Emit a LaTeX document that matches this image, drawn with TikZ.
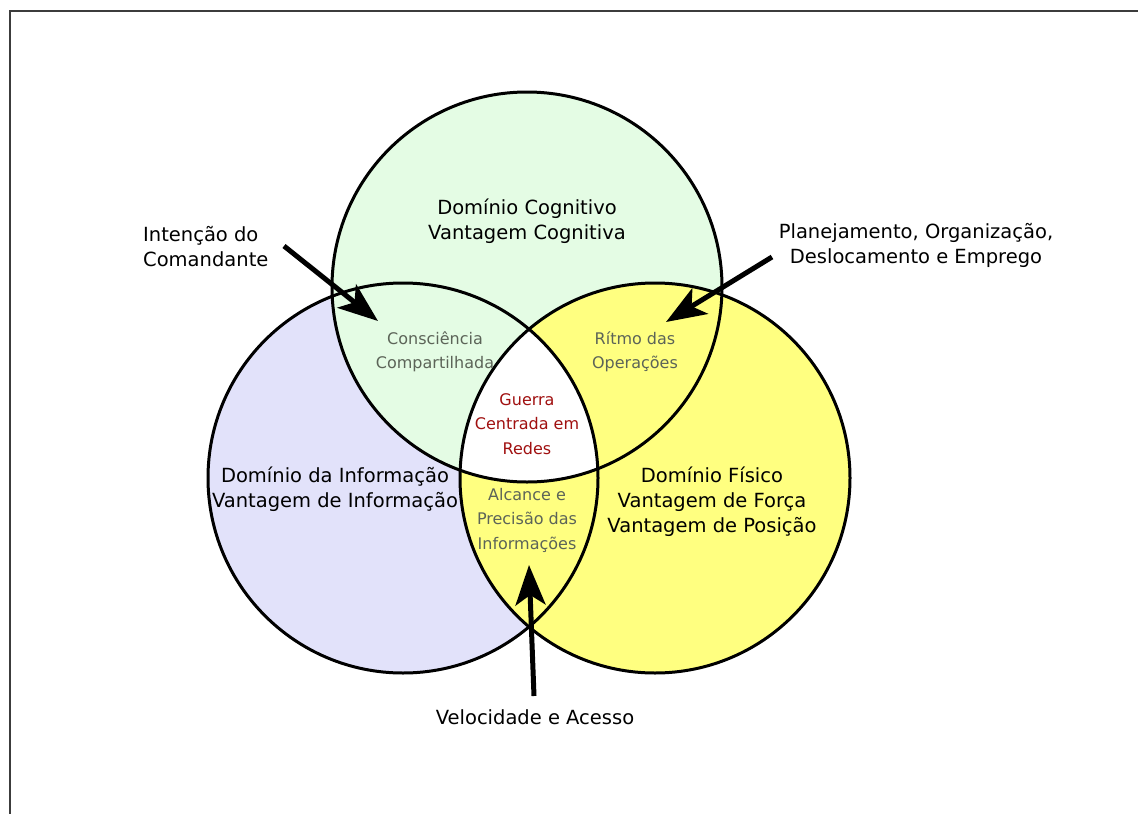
\documentclass[tikz,border=0pt]{standalone}
\usepackage{fontspec}
\setmainfont{DejaVu Sans}
\usetikzlibrary{arrows.meta}
\definecolor{cgreen}{RGB}{228,252,228}
\definecolor{cblue}{RGB}{226,226,250}
\definecolor{cyellow}{RGB}{255,255,128}
\definecolor{labgray}{RGB}{92,100,88}
\definecolor{labred}{RGB}{160,16,16}
\definecolor{framegray}{RGB}{60,60,60}
\tikzset{
  circ/.style={line width=3pt, draw=black},
  bigtxt/.style={align=center, font=\fontsize{19.5}{25}\selectfont, text=black, inner sep=0pt},
  smalltxt/.style={align=center, font=\fontsize{16}{24.5}\selectfont, text=labgray, inner sep=0pt},
  redtxt/.style={align=center, font=\fontsize{16}{24.5}\selectfont, text=labred, inner sep=0pt},
  bigarrow/.style={line width=5pt, -{Stealth[length=40pt,width=30pt,inset=10pt]}}
}
\begin{document}
\begin{tikzpicture}[x=1pt,y=-1pt]
\useasboundingbox (0,0) rectangle (1138,814);
\fill[white] (0,0) rectangle (1138,814);
% frame (cropped)
\draw[framegray, line width=2pt] (9.5,814) -- (9.5,10.5) -- (1138,10.5);
% centres
\coordinate (G) at (527,287);
\coordinate (B) at (403,478);
\coordinate (Y) at (655,478);
% fills
\fill[cblue] (B) circle (195);
\fill[cgreen] (G) circle (195);
\fill[cyellow] (Y) circle (195);
\begin{scope}
  \clip (B) circle (195);
  \clip (Y) circle (195);
  \fill[white] (G) circle (195);
\end{scope}
% outlines
\draw[circ] (B) circle (195);
\draw[circ] (G) circle (195);
\draw[circ] (Y) circle (195);
% texts
\node[bigtxt] (cog) at (527,221) {Domínio Cognitivo\\Vantagem Cognitiva};
\node[bigtxt] (inf) at (335,489) {Domínio da Informação\\Vantagem de Informação};
\node[bigtxt] (fis) at (712,502) {Domínio Físico\\Vantagem de Força\\Vantagem de Posição};
\node[smalltxt] (cons) at (435,352) {Consciência\\Compartilhada};
\node[smalltxt] (ritmo) at (635,352) {Rítmo das\\Operações};
\node[smalltxt] (alc) at (527,520) {Alcance e\\Precisão das\\Informações};
\node[redtxt] (gcr) at (527,424) {Guerra\\Centrada em\\Redes};
\node[bigtxt, align=left, anchor=west] (int) at (143,247) {Intenção do\\Comandante};
\node[bigtxt] (plan) at (916,245) {Planejamento, Organização,\\Deslocamento e Emprego};
\node[bigtxt] (vel) at (535,717) {Velocidade e Acesso};
% arrows
\coordinate (a1s) at (284,246);
\coordinate (a1e) at (378,321);
\coordinate (a2s) at (772,257);
\coordinate (a2e) at (666,322);
\coordinate (a3s) at (534,696);
\coordinate (a3e) at (529,565);
\draw[bigarrow] (a1s) -- (a1e);
\draw[bigarrow] (a2s) -- (a2e);
\draw[bigarrow] (a3s) -- (a3e);
\end{tikzpicture}
\end{document}
